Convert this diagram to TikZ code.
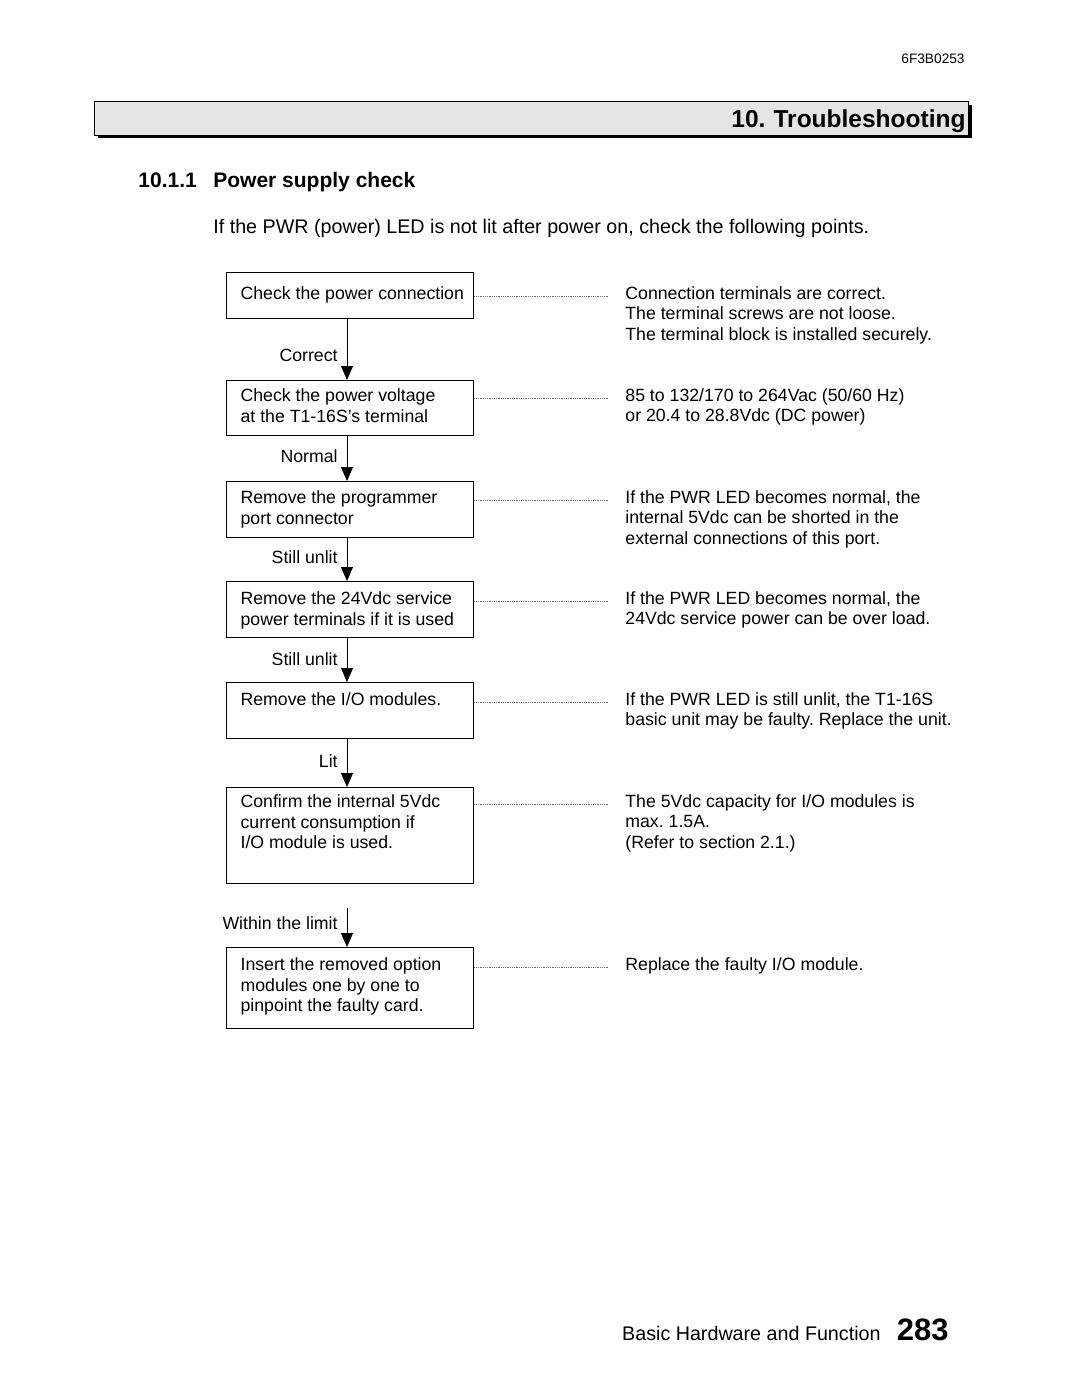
\documentclass[tikz,border=0pt]{standalone}
\usepackage{fontspec}
\setmainfont{Liberation Sans}
\usetikzlibrary{arrows.meta, positioning, calc}
\definecolor{hdrgray}{RGB}{229, 229, 229}
\definecolor{dotgray}{RGB}{105, 105, 105}
\frenchspacing
\newcommand{\bodyfont}{\fontsize{8.85pt}{10.25pt}\selectfont}
\newcommand{\chktext}[3]{\hspace*{7pt}\parbox[t][#1][t]{116.5pt}{\raggedright\rule{0pt}{#2}#3}}
\newcommand{\notetext}[1]{\parbox[t]{175pt}{\raggedright #1}}

\begin{document}
\begin{tikzpicture}[x=0.5pt, y=-0.5pt,
  chk/.style={draw, line width=0.6pt, inner sep=0pt, anchor=north west, font=\bodyfont},
  note/.style={inner sep=0pt, anchor=base west, font=\bodyfont},
  lbl/.style={inner sep=0pt, anchor=base east, font=\bodyfont},
  flow/.style={-{Triangle[width=6pt, length=7pt]}, line width=0.5pt},
  dotline/.style={draw=dotgray, line width=0.4pt, dash pattern=on 0.4pt off 0.5pt}
]
  \useasboundingbox (0,0) rectangle (1080,1397);

  \node[inner sep=0pt, anchor=base east, font=\fontsize{6.85pt}{8pt}\selectfont] (docid) at (965,63) {6F3B0253};
  \fill (98,105) rectangle (972,138);
  \node[draw, line width=0.5pt, fill=hdrgray, anchor=north west, minimum width=437pt, minimum height=17pt,
        inner xsep=1.5pt, inner ysep=0pt, text depth=0pt, text width=434pt, align=right, font=\fontsize{12.25pt}{14pt}\selectfont\bfseries] (hdr) at (94,101) {10. Troubleshooting};

  \node[inner sep=0pt, anchor=base west, font=\fontsize{10.5pt}{12pt}\selectfont\bfseries] (sec) at (138,187) {\makebox[37.5pt][l]{10.1.1}Power supply check};
  \node[inner sep=0pt, anchor=base west, font=\fontsize{9.85pt}{12pt}\selectfont] (intro) at (213,233) {If the PWR (power) LED is not lit after power on, check the following points.};

  \node[chk] (b1) at (226,272) {\chktext{23pt}{13.5pt}{Check the power connection}};
  \node[chk] (b2) at (226,380) {\chktext{27.5pt}{10.5pt}{Check the power voltage\\at the T1-16S's terminal}};
  \node[chk] (b3) at (226,481) {\chktext{28pt}{11pt}{Remove the programmer\\port connector}};
  \node[chk] (b4) at (226,581) {\chktext{28pt}{11.5pt}{Remove the 24Vdc service\\power terminals if it is used}};
  \node[chk] (b5) at (226,682) {\chktext{28pt}{11.5pt}{Remove the I/O modules.}};
  \node[chk] (b6) at (226,787) {\chktext{48pt}{10pt}{Confirm the internal 5Vdc\\current consumption if\\I/O module is used.}};
  \node[chk] (b7) at (226,947) {\chktext{40.5pt}{11.5pt}{Insert the removed option\\modules one by one to\\pinpoint the faulty card.}};

  \node[note] (n1) at (625,299) {\notetext{Connection terminals are correct.\\The terminal screws are not loose.\\The terminal block is installed securely.}};
  \node[note] (n2) at (625,401) {\notetext{85 to 132/170 to 264Vac (50/60 Hz)\\or 20.4 to 28.8Vdc (DC power)}};
  \node[note] (n3) at (625,503) {\notetext{If the PWR LED becomes normal, the\\internal 5Vdc can be shorted in the\\external connections of this port.}};
  \node[note] (n4) at (625,604) {\notetext{If the PWR LED becomes normal, the\\24Vdc service power can be over load.}};
  \node[note] (n5) at (625,705) {\notetext{If the PWR LED is still unlit, the T1-16S\\basic unit may be faulty. Replace the unit.}};
  \node[note] (n6) at (625,807) {\notetext{The 5Vdc capacity for I/O modules is\\max. 1.5A.\\(Refer to section 2.1.)}};
  \node[note] (n7) at (625,970) {\notetext{Replace the faulty I/O module.}};

  \draw[dotline] ([yshift=1.5pt]b1.east |- n1.base) -- ([xshift=-8.5pt, yshift=1.5pt]n1.base west);
  \draw[dotline] ([yshift=1.5pt]b2.east |- n2.base) -- ([xshift=-8.5pt, yshift=1.5pt]n2.base west);
  \draw[dotline] ([yshift=1.5pt]b3.east |- n3.base) -- ([xshift=-8.5pt, yshift=1.5pt]n3.base west);
  \draw[dotline] ([yshift=1.5pt]b4.east |- n4.base) -- ([xshift=-8.5pt, yshift=1.5pt]n4.base west);
  \draw[dotline] ([yshift=1.5pt]b5.east |- n5.base) -- ([xshift=-8.5pt, yshift=1.5pt]n5.base west);
  \draw[dotline] ([yshift=1.5pt]b6.east |- n6.base) -- ([xshift=-8.5pt, yshift=1.5pt]n6.base west);
  \draw[dotline] ([yshift=1.5pt]b7.east |- n7.base) -- ([xshift=-8.5pt, yshift=1.5pt]n7.base west);

  \coordinate (ax) at (347,0);
  \coordinate (s6) at (347,908);
  \draw[flow] (b1.south -| ax) -- (b2.north -| ax);
  \draw[flow] (b2.south -| ax) -- (b3.north -| ax);
  \draw[flow] (b3.south -| ax) -- (b4.north -| ax);
  \draw[flow] (b4.south -| ax) -- (b5.north -| ax);
  \draw[flow] (b5.south -| ax) -- (b6.north -| ax);
  \draw[flow] (s6) -- (b7.north -| ax);

  \node[lbl] (l1) at (338,361) {Correct};
  \node[lbl] (l2) at (338,462) {Normal};
  \node[lbl] (l3) at (338,563) {Still unlit};
  \node[lbl] (l4) at (338,665) {Still unlit};
  \node[lbl] (l5) at (338,767) {Lit};
  \node[lbl] (l6) at (338,929) {Within the limit};

  \node[inner sep=0pt, anchor=base east, font=\fontsize{9.85pt}{12pt}\selectfont] (foot) at (881,1340) {Basic Hardware and Function};
  \node[inner sep=0pt, anchor=base east, font=\fontsize{15.5pt}{18pt}\selectfont\bfseries] (page) at (949,1340) {283};
\end{tikzpicture}
\end{document}
